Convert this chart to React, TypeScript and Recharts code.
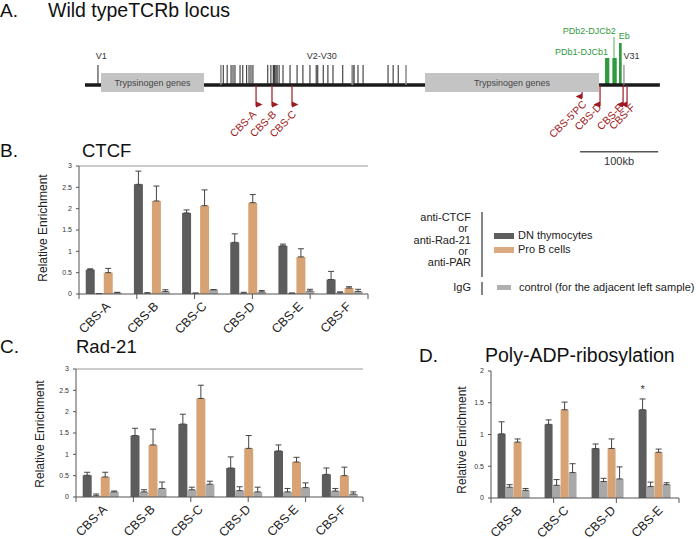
import React from "react";
import {
  BarChart,
  Bar,
  XAxis,
  YAxis,
  ErrorBar,
  LabelList,
  ReferenceLine,
  ReferenceArea,
  ReferenceDot,
  ComposedChart,
  Scatter,
} from "recharts";

const FONT = '"Liberation Sans", Arial, Helvetica, sans-serif';

const DN_COLOR = "#5c5c5c";
const PB_COLOR = "#d8a374";
const IGG_COLOR = "#a8a8a8";
const RED = "#9e1a22";
const GREEN = "#2f9a3e";

// ---- panel A: locus map (positions in kb) ----
const locusSegments = [
  [0, 20.5],
  [152.4, 435.3],
  [658.1, 736],
];
const trypsinBoxes = [
  [20.5, 152.4],
  [435.3, 658.1],
];
const v1Kb = 16.6;
const vGenes = [
  174, 177, 182, 187, 189.5, 192, 198.5, 202, 207, 210, 212.5, 215, 234, 238, 241, 242, 243, 244.5, 246, 248.5,
  253.5, 262.5, 271.5, 279, 288, 296, 298, 305, 311, 317.5, 330, 342, 343, 344.5, 349.5, 356, 388, 394.5, 401, 411,
];
const vGenesGray = [174, 342, 343, 411];
const v31Kb = 690;
const djBlocks = [
  [665.8, 671.3, 27],
  [675.2, 680.8, 27],
  [683.7, 687.1, 42],
];

const cbsNames = ["CBS-A", "CBS-B", "CBS-C", "CBS-5'PC", "CBS-D", "CBS-E", "CBS-F"];
const cbsKb = [219, 239.4, 265, 636.4, 659.4, 688.9, 694];
const cbsStart = [0, 0, 0, -7, 0, 0, 0];
const cbsEnd = [-21, -21, -21, -13, -21, -21, -21];
const cbsDir = [1, 1, 1, -1, -1, -1, -1];
const cbsLabelKb = [220.2, 245.8, 271.4, 642.8, 662, 690.1, 705.2];
const cbsLabelY = [-30, -30, -30, -20, -23, -23, -23];

// ---- panel B: CTCF ----
const ctcfCats = ["CBS-A", "CBS-B", "CBS-C", "CBS-D", "CBS-E", "CBS-F"];
const ctcfDN = [0.57, 2.57, 1.9, 1.21, 1.13, 0.34];
const ctcfDNErr = [0.02, 0.31, 0.07, 0.2, 0.04, 0.19];
const ctcfDNIgG = [0.01, 0.02, 0.02, 0.02, 0.02, 0.03];
const ctcfDNIgGErr = [0, 0.01, 0, 0.02, 0, 0.02];
const ctcfPB = [0.5, 2.18, 2.07, 2.14, 0.87, 0.14];
const ctcfPBErr = [0.1, 0.35, 0.37, 0.19, 0.19, 0.03];
const ctcfPBIgG = [0.03, 0.06, 0.1, 0.05, 0.07, 0.06];
const ctcfPBIgGErr = [0.01, 0.04, 0, 0.03, 0.04, 0.05];

// ---- panel C: Rad-21 ----
const radCats = ["CBS-A", "CBS-B", "CBS-C", "CBS-D", "CBS-E", "CBS-F"];
const radDN = [0.51, 1.44, 1.71, 0.68, 1.08, 0.53];
const radDNErr = [0.07, 0.17, 0.23, 0.26, 0.14, 0.15];
const radDNIgG = [0.03, 0.12, 0.17, 0.15, 0.12, 0.14];
const radDNIgGErr = [0.04, 0.05, 0.06, 0.09, 0.08, 0.06];
const radPB = [0.47, 1.22, 2.31, 1.14, 0.82, 0.5];
const radPBErr = [0.11, 0.37, 0.31, 0.3, 0.11, 0.2];
const radPBIgG = [0.12, 0.2, 0.3, 0.12, 0.22, 0.07];
const radPBIgGErr = [0.02, 0.15, 0.07, 0.11, 0.11, 0.05];

// ---- panel D: Poly-ADP-ribosylation ----
const parCats = ["CBS-B", "CBS-C", "CBS-D", "CBS-E"];
const parDN = [1.01, 1.16, 0.78, 1.39];
const parDNErr = [0.19, 0.07, 0.07, 0.17];
const parDNIgG = [0.17, 0.2, 0.26, 0.18];
const parDNIgGErr = [0.04, 0.09, 0.05, 0.07];
const parPB = [0.88, 1.39, 0.78, 0.72];
const parPBErr = [0.05, 0.12, 0.15, 0.05];
const parPBIgG = [0.12, 0.4, 0.3, 0.21];
const parPBIgGErr = [0.03, 0.14, 0.19, 0.03];
const parMarks = ["", "", "", "*"];

const ticks3 = [0, 0.5, 1, 1.5, 2, 2.5, 3];
const ticks2 = [0, 0.5, 1, 1.5, 2];

const legendLeft = ["anti-CTCF", "or", "anti-Rad-21", "or", "anti-PAR"];
const legendItems = [
  { name: "DN thymocytes", color: "#5e5e5e" },
  { name: "Pro B cells", color: "#dcaa80" },
];

function CatTick(props: any) {
  const { x, y, payload } = props;
  const tx = x + 8;
  const ty = y + 13;
  return (
    <text x={tx} y={ty} transform={`rotate(-45 ${tx} ${ty})`} textAnchor="end" fontSize={12.5} fill="#222" fontFamily={FONT}>
      {payload.value}
    </text>
  );
}

function SepTick(props: any) {
  const { x1, y1, y2 } = props;
  const yb = Math.max(y1, y2);
  return <line x1={x1} x2={x1} y1={yb} y2={yb + 5} stroke="#555" strokeWidth={1} />;
}

interface PanelProps {
  cats: string[];
  dn: number[];
  dnErr: number[];
  dnIgG: number[];
  dnIgGErr: number[];
  pb: number[];
  pbErr: number[];
  pbIgG: number[];
  pbIgGErr: number[];
  marks?: string[];
  yMax: number;
  yTicks: number[];
  boxed: boolean;
  width: number;
  height: number;
  margin: { top: number; right: number; bottom: number; left: number };
  xHeight: number;
}

function BarPanel(p: PanelProps) {
  const n = p.cats.length;
  const rows = p.cats.map((c, i) => ({
    cat: c,
    dn: p.dn[i],
    dnE: [0, p.dnErr[i]],
    dnIgG: p.dnIgG[i],
    dnIgGE: [0, p.dnIgGErr[i]],
    pb: p.pb[i],
    pbE: [0, p.pbErr[i]],
    pbIgG: p.pbIgG[i],
    pbIgGE: [0, p.pbIgGErr[i]],
    mark: p.marks ? p.marks[i] : "",
  }));
  const bounds = Array.from({ length: n + 1 }, (_, i) => i);
  const eb = { stroke: "#444", strokeWidth: 1, width: 3 };
  return (
    <BarChart width={p.width} height={p.height} data={rows} margin={p.margin} barCategoryGap="14%" barGap={0}>
      <XAxis
        dataKey="cat"
        tick={<CatTick />}
        tickLine={false}
        tickSize={0}
        tickMargin={0}
        axisLine={{ stroke: "#555" }}
        interval={0}
        height={p.xHeight}
      />
      <XAxis xAxisId="n" type="number" domain={[0, n]} allowDataOverflow hide />
      <YAxis
        domain={[0, p.yMax]}
        ticks={p.yTicks}
        interval={0}
        width={20}
        tick={{ fontSize: 7, fill: "#333", fontFamily: FONT }}
        tickSize={3}
        tickMargin={4}
        tickLine={{ stroke: "#555" }}
        axisLine={{ stroke: "#555" }}
      />
      {p.boxed && <ReferenceLine y={p.yMax} stroke="#999" />}
      {p.boxed && <ReferenceLine xAxisId="n" x={n} stroke="#999" />}
      {bounds.map((b) => (
        <ReferenceLine key={b} xAxisId="n" x={b} shape={SepTick} />
      ))}
      <Bar dataKey="dn" fill={DN_COLOR} isAnimationActive={false}>
        <ErrorBar dataKey="dnE" {...eb} />
        {p.marks && (
          <LabelList dataKey="mark" position="top" offset={17} fontSize={11} fill="#333" fontFamily={FONT} />
        )}
      </Bar>
      <Bar dataKey="dnIgG" fill={IGG_COLOR} isAnimationActive={false}>
        <ErrorBar dataKey="dnIgGE" {...eb} />
      </Bar>
      <Bar dataKey="pb" fill={PB_COLOR} isAnimationActive={false}>
        <ErrorBar dataKey="pbE" {...eb} />
      </Bar>
      <Bar dataKey="pbIgG" fill={IGG_COLOR} isAnimationActive={false}>
        <ErrorBar dataKey="pbIgGE" {...eb} />
      </Bar>
    </BarChart>
  );
}

function ArrowHead(props: any) {
  const { cx, cy } = props;
  const dir = props.payload?.dir ?? props.dir;
  const pts =
    dir > 0
      ? `${cx},${cy - 3} ${cx + 6.5},${cy} ${cx},${cy + 3}`
      : `${cx},${cy - 3} ${cx - 6.5},${cy} ${cx},${cy + 3}`;
  return <polygon points={pts} fill={RED} />;
}

const txt =
  (text: string, color: string, size: number, anchor: string = "start", rotate?: number) =>
  (pp: any) =>
    (
      <text
        x={pp.cx}
        y={pp.cy}
        fill={color}
        fontSize={size}
        fontFamily={FONT}
        textAnchor={anchor as any}
        transform={rotate ? `rotate(${rotate} ${pp.cx} ${pp.cy})` : undefined}
      >
        {text}
      </text>
    );

function LocusMap() {
  const arrows = cbsKb.map((kb, i) => ({ x: kb, y: cbsEnd[i] + 1.5, dir: cbsDir[i] }));
  return (
    <ComposedChart width={696} height={180} margin={{ top: 25, right: 33, bottom: 0, left: 85 }}>
      <XAxis type="number" dataKey="x" domain={[0, 740]} allowDataOverflow hide />
      <YAxis type="number" dataKey="y" domain={[-95, 60]} allowDataOverflow hide />
      {locusSegments.map(([a, b], i) => (
        <ReferenceLine key={"s" + i} segment={[{ x: a, y: 0 }, { x: b, y: 0 }]} stroke="#1a1a1a" strokeWidth={3.5} />
      ))}
      {trypsinBoxes.map(([a, b], i) => (
        <ReferenceArea
          key={"t" + i}
          x1={a}
          x2={b}
          y1={-7}
          y2={12}
          fill="#c4c4c4"
          fillOpacity={1}
          stroke="none"
          label={{ value: "Trypsinogen genes", position: "center", fontSize: 9, fill: "#444", fontFamily: FONT }}
        />
      ))}
      <ReferenceLine segment={[{ x: v1Kb, y: 0 }, { x: v1Kb, y: 20 }]} stroke="#222" strokeWidth={1} />
      {vGenes.map((kb, i) => (
        <ReferenceLine
          key={"v" + i}
          segment={[{ x: kb, y: 0 }, { x: kb, y: 20 }]}
          stroke={vGenesGray.includes(kb) ? "#888" : "#222"}
          strokeWidth={vGenesGray.includes(kb) ? 1.5 : 1}
        />
      ))}
      <ReferenceLine segment={[{ x: v31Kb, y: 0 }, { x: v31Kb, y: 20 }]} stroke="#888" strokeWidth={1.2} />
      {djBlocks.map(([a, b, h], i) => (
        <ReferenceArea key={"g" + i} x1={a} x2={b} y1={0} y2={h} fill={GREEN} fillOpacity={1} stroke="none" />
      ))}
      <ReferenceLine segment={[{ x: 677.3, y: 27 }, { x: 677.3, y: 48 }]} stroke={GREEN} strokeWidth={0.8} />
      {cbsKb.map((kb, i) => (
        <ReferenceLine
          key={"c" + i}
          segment={[{ x: kb, y: cbsStart[i] }, { x: kb, y: cbsEnd[i] }]}
          stroke={RED}
          strokeWidth={1.2}
        />
      ))}
      <Scatter data={arrows} shape={ArrowHead} isAnimationActive={false} />
      {cbsNames.map((nm, i) => (
        <ReferenceDot key={"l" + i} x={cbsLabelKb[i]} y={cbsLabelY[i]} shape={txt(nm, RED, 10.5, "end", -45)} />
      ))}
      <ReferenceDot x={13.7} y={25.7} shape={txt("V1", "#333", 9)} />
      <ReferenceDot x={283.8} y={25.7} shape={txt("V2-V30", "#333", 9)} />
      <ReferenceDot x={611.6} y={51} shape={txt("PDb2-DJCb2", GREEN, 9)} />
      <ReferenceDot x={683.5} y={46} shape={txt("Eb", GREEN, 9)} />
      <ReferenceDot x={601.8} y={29.7} shape={txt("PDb1-DJCb1", GREEN, 9)} />
      <ReferenceDot x={689.3} y={26.3} shape={txt("V31", "#333", 9)} />
      <ReferenceLine segment={[{ x: 633.8, y: -66.7 }, { x: 733.8, y: -66.7 }]} stroke="#555" strokeWidth={1.5} />
      <ReferenceDot x={683.8} y={-80} shape={txt("100kb", "#333", 11, "middle")} />
    </ComposedChart>
  );
}

export default function App() {
  return (
    <div style={{ position: "absolute", left: 0, top: 0, width: 696, height: 539, background: "#fff", fontFamily: FONT }}>
      <div style={{ position: "absolute", left: 0, top: 0 }}>
        <LocusMap />
      </div>
      <div style={{ position: "absolute", left: 0, top: 150 }}>
        <BarPanel
          cats={ctcfCats}
          dn={ctcfDN}
          dnErr={ctcfDNErr}
          dnIgG={ctcfDNIgG}
          dnIgGErr={ctcfDNIgGErr}
          pb={ctcfPB}
          pbErr={ctcfPBErr}
          pbIgG={ctcfPBIgG}
          pbIgGErr={ctcfPBIgGErr}
          yMax={3}
          yTicks={ticks3}
          boxed
          width={380}
          height={200}
          margin={{ top: 16, right: 12, bottom: 6, left: 59 }}
          xHeight={50}
        />
      </div>
      <div style={{ position: "absolute", left: 0, top: 350 }}>
        <BarPanel
          cats={radCats}
          dn={radDN}
          dnErr={radDNErr}
          dnIgG={radDNIgG}
          dnIgGErr={radDNIgGErr}
          pb={radPB}
          pbErr={radPBErr}
          pbIgG={radPBIgG}
          pbIgGErr={radPBIgGErr}
          yMax={3}
          yTicks={ticks3}
          boxed
          width={375}
          height={189}
          margin={{ top: 19, right: 12, bottom: 0, left: 56 }}
          xHeight={42}
        />
      </div>
      <div style={{ position: "absolute", left: 420, top: 350 }}>
        <BarPanel
          cats={parCats}
          dn={parDN}
          dnErr={parDNErr}
          dnIgG={parDNIgG}
          dnIgGErr={parDNIgGErr}
          pb={parPB}
          pbErr={parPBErr}
          pbIgG={parPBIgG}
          pbIgGErr={parPBIgGErr}
          marks={parMarks}
          yMax={2}
          yTicks={ticks2}
          boxed={false}
          width={270}
          height={189}
          margin={{ top: 21, right: 11, bottom: 0, left: 51 }}
          xHeight={41}
        />
      </div>
      <svg
        width={696}
        height={539}
        style={{ position: "absolute", left: 0, top: 0, pointerEvents: "none" }}
        fontFamily={FONT}
      >
        <text x={0} y={17} fontSize={19} fill="#111">A.</text>
        <text x={48} y={17} fontSize={19.5} fill="#111">Wild typeTCRb locus</text>
        <text x={0} y={157} fontSize={19} fill="#111">B.</text>
        <text x={82} y={157} fontSize={18.5} fill="#111">CTCF</text>
        <text x={0} y={353} fontSize={19} fill="#111">C.</text>
        <text x={76} y={353} fontSize={18.5} fill="#111">Rad-21</text>
        <text x={419} y={362} fontSize={19} fill="#111">D.</text>
        <text x={485} y={362} fontSize={19.5} fill="#111">Poly-ADP-ribosylation</text>
        <text x={47} y={228} fontSize={12} fill="#222" textAnchor="middle" transform="rotate(-90 47 228)">
          Relative Enrichment
        </text>
        <text x={44} y={434} fontSize={12} fill="#222" textAnchor="middle" transform="rotate(-90 44 434)">
          Relative Enrichment
        </text>
        <text x={466} y={440} fontSize={12} fill="#222" textAnchor="middle" transform="rotate(-90 466 440)">
          Relative Enrichment
        </text>
        {legendLeft.map((t, i) => (
          <text key={t + i} x={t === "or" ? 468 : 471} y={221 + i * 11.3} fontSize={11} fill="#222" textAnchor="end">
            {t}
          </text>
        ))}
        <line x1={482} x2={482} y1={212} y2={277} stroke="#333" strokeWidth={1.2} />
        {legendItems.map((it, i) => (
          <g key={it.name}>
            <rect x={494} y={233 + i * 14} width={20} height={6} fill={it.color} />
            <text x={518} y={239 + i * 14} fontSize={11} fill="#222">
              {it.name}
            </text>
          </g>
        ))}
        <text x={471} y={291} fontSize={11} fill="#222" textAnchor="end">IgG</text>
        <line x1={482} x2={482} y1={282} y2={295} stroke="#333" strokeWidth={1.2} />
        <rect x={497} y={285} width={14} height={5} fill="#b0b0b0" />
        <text x={519} y={291} fontSize={11} fill="#222">control (for the adjacent left sample)</text>
      </svg>
    </div>
  );
}
